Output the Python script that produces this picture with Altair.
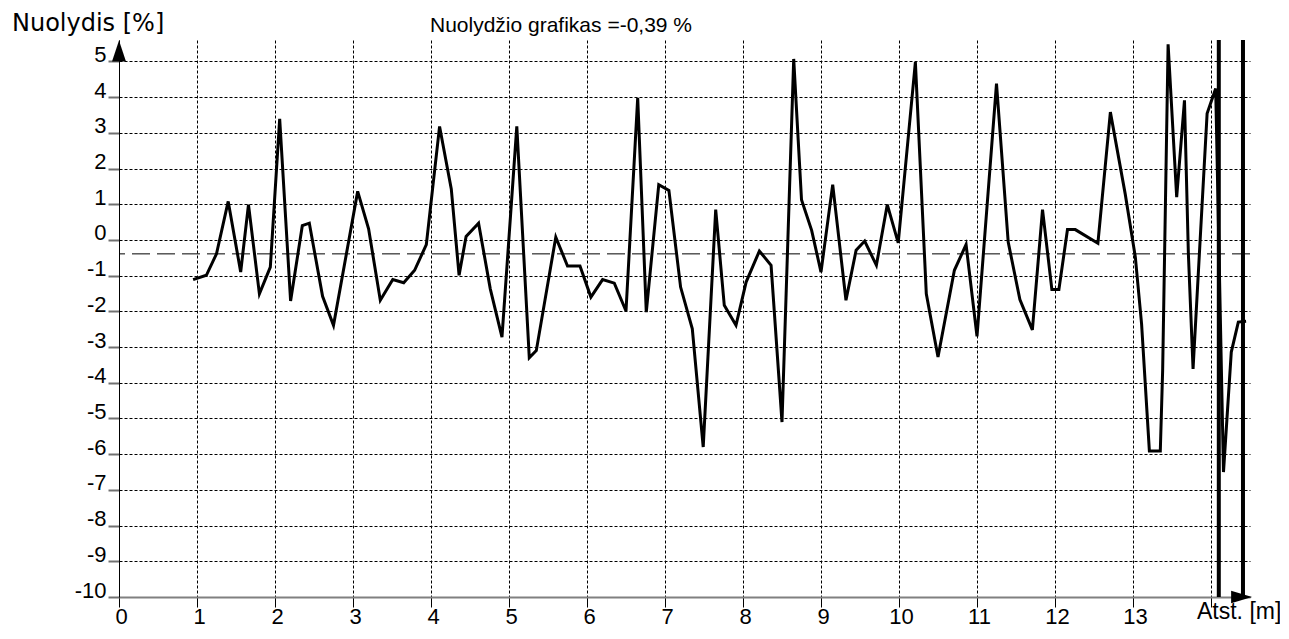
import altair as alt
import pandas as pd

# Distance along profile [m]
dist_m = [0.95, 1.12, 1.25, 1.40, 1.56, 1.66, 1.80, 1.94, 2.06, 2.20, 2.35, 2.44, 2.61, 2.75,
          3.06, 3.20, 3.35, 3.51, 3.65, 3.79, 3.94, 4.11, 4.26, 4.36, 4.45, 4.61, 4.76, 4.91,
          5.10, 5.26, 5.35, 5.60, 5.75, 5.91, 6.05, 6.20, 6.35, 6.50, 6.65, 6.76, 6.92, 7.05,
          7.20, 7.35, 7.49, 7.65, 7.76, 7.91, 8.04, 8.21, 8.36, 8.50, 8.65, 8.75, 8.88, 9.00,
          9.15, 9.32, 9.45, 9.56, 9.71, 9.85, 9.99, 10.21, 10.35, 10.50, 10.71, 10.86, 11.00,
          11.25, 11.40, 11.55, 11.71, 11.84, 11.96, 12.05, 12.16, 12.26, 12.55, 12.71, 12.90,
          13.03, 13.11, 13.21, 13.35, 13.38, 13.45, 13.56, 13.66, 13.71, 13.77, 13.95, 14.06,
          14.16, 14.26, 14.35, 14.45]
# Slope [%]
slope_pct = [-1.11, -0.99, -0.39, 1.08, -0.90, 0.99, -1.51, -0.76, 3.39, -1.71, 0.40, 0.47, -1.58, -2.39,
             1.36, 0.31, -1.69, -1.11, -1.20, -0.85, -0.13, 3.18, 1.43, -0.99, 0.10, 0.47, -1.37, -2.72,
             3.18, -3.30, -3.10, 0.08, -0.73, -0.73, -1.60, -1.11, -1.21, -1.99, 3.98, -2.02, 1.55, 1.39,
             -1.32, -2.49, -5.80, 0.85, -1.83, -2.39, -1.18, -0.31, -0.71, -5.10, 5.07, 1.13, 0.27, -0.90,
             1.55, -1.69, -0.29, -0.03, -0.71, 0.99, -0.08, 4.98, -1.51, -3.28, -0.85, -0.13, -2.70,
             4.38, -0.06, -1.67, -2.52, 0.85, -1.39, -1.39, 0.29, 0.29, -0.09, 3.58, 1.29,
             -0.48, -2.35, -5.91, -5.91, -3.66, 5.48, 1.20, 3.91, -0.39, -3.61, 3.54, 4.24,
             -6.50, -3.14, -2.30, -2.28]

mean_slope = [-0.39]
marker_x = [14.10, 14.41]
x_ticks = list(range(0, 15))
y_ticks = list(range(-10, 6))
x_domain = [0, 14.5]
y_domain = [-10, 5.6]

title_text = "Nuolydžio grafikas =-0,39 %"
y_title = "Nuolydis [%]"
x_title = "Atst. [m]"

TICK_FONT = "Liberation Sans"
TEXT_FONT = "DejaVu Sans"

df = pd.DataFrame({"x": dist_m, "y": slope_pct})

xs = alt.Scale(domain=x_domain, nice=False, zero=False)
ys = alt.Scale(domain=y_domain, nice=False, zero=False)

x_axis = alt.Axis(
    values=x_ticks, title=None,
    grid=True, gridColor="black", gridDash=[3, 2], gridWidth=1, gridOpacity=1,
    domainColor="#808080", domainWidth=2,
    tickColor="black", tickSize=10, tickWidth=1,
    labelExpr="datum.value == 14 ? '' : '' + datum.value",
    labelFont=TICK_FONT, labelFontSize=22, labelColor="black",
    labelBaseline="alphabetic", labelPadding=16, labelOffset=2, labelFlush=False,
)
y_axis = alt.Axis(
    values=y_ticks, title=None,
    grid=True, gridColor="black", gridDash=[3, 2], gridWidth=1, gridOpacity=1,
    domainColor="black", domainWidth=1,
    tickColor="#707070", tickSize=11, tickWidth=2,
    labelExpr="'' + datum.value",
    labelFont=TICK_FONT, labelFontSize=22, labelColor="black",
    labelBaseline="alphabetic", labelAlign="right", labelPadding=2, labelFlush=False,
)


def X(field):
    return alt.X(field, type="quantitative", scale=xs, axis=x_axis)


def Y(field):
    return alt.Y(field, type="quantitative", scale=ys, axis=y_axis)


line = alt.Chart(df).mark_line(color="black", strokeWidth=3, strokeJoin="miter").encode(
    x=X("x"), y=Y("y"),
)

mean_rule = alt.Chart(pd.DataFrame({"y": mean_slope})).mark_rule(
    color="black", strokeWidth=1, strokeDash=[18, 7]
).encode(y=Y("y"))

markers = alt.Chart(pd.DataFrame({"x": marker_x})).mark_rule(
    color="black", strokeWidth=4
).encode(x=X("x"))

y_arrow = alt.Chart(pd.DataFrame({"x": [x_domain[0]], "y": [5]})).mark_point(
    shape="M-0.333,0 L0.333,0 L0,-1 Z", size=1764, filled=True, color="black", opacity=1, strokeWidth=0
).encode(x=X("x"), y=Y("y"))

x_arrow = alt.Chart(pd.DataFrame({"x": [x_domain[1]], "y": [y_domain[0]]})).mark_point(
    shape="M-0.9,-0.3 L-0.9,0.3 L0.1,0 Z", size=1764, filled=True, color="black", opacity=1, strokeWidth=0
).encode(x=X("x"), y=Y("y"))

title_mark = alt.Chart(pd.DataFrame({"t": [title_text]})).mark_text(
    font=TICK_FONT, fontSize=21, align="center", baseline="alphabetic", color="black"
).encode(x=alt.value(442), y=alt.value(-8), text="t:N")

ytitle_mark = alt.Chart(pd.DataFrame({"t": [y_title]})).mark_text(
    font=TEXT_FONT, fontSize=24, align="left", baseline="alphabetic", color="black"
).encode(x=alt.value(-107), y=alt.value(-9), text="t:N")

xtitle_mark = alt.Chart(pd.DataFrame({"t": [x_title]})).mark_text(
    font="Liberation Sans", fontSize=23, align="left", baseline="alphabetic", color="black"
).encode(x=alt.value(1078), y=alt.value(579), text="t:N")

chart = alt.layer(
    mean_rule, line, markers, y_arrow, x_arrow, title_mark, ytitle_mark, xtitle_mark
).properties(
    width=1131, height=557,
    autosize=alt.AutoSizeParams(type="none"),
    padding={"left": 111, "top": 32, "right": 30, "bottom": 31},
    background="white",
).configure_view(strokeWidth=0)

chart.save("out.html", embed_options={"renderer": "svg", "actions": False})
